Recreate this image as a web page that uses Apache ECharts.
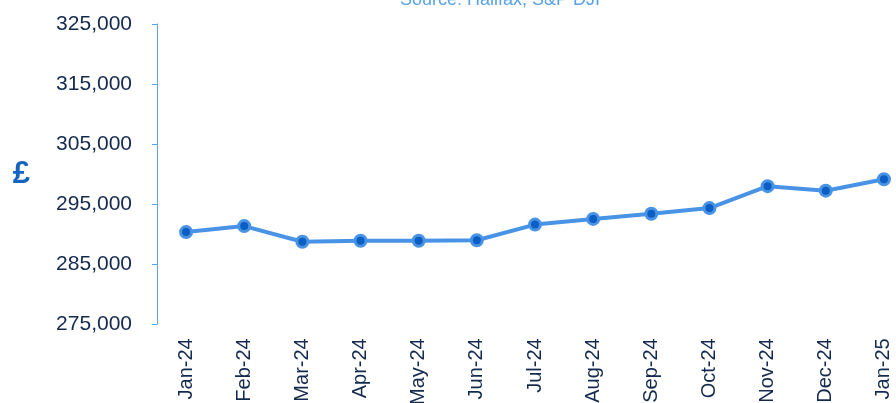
<!DOCTYPE html>
<html>
<head>
<meta charset="utf-8">
<script src="https://cdn.jsdelivr.net/npm/echarts@6/dist/echarts.min.js"></script>
<style>
  html, body { margin: 0; padding: 0; background: #fff; }
  #chart { width: 896px; height: 403px; }
</style>
</head>
<body>
<div id="chart"></div>
<script>
// 月份
var months = ['Jan-24', 'Feb-24', 'Mar-24', 'Apr-24', 'May-24', 'Jun-24', 'Jul-24',
              'Aug-24', 'Sep-24', 'Oct-24', 'Nov-24', 'Dec-24', 'Jan-25']
// 平均房价 (£)
var avgPrice = [290350, 291350, 288750, 288900, 288900, 289000, 291600,
                292550, 293400, 294350, 298000, 297250, 299150]
var yTicks = [275000, 285000, 295000, 305000, 315000, 325000]

var myChart = echarts.init(document.getElementById('chart'))
var option = {
  animation: false,
  title: {
    text: 'Source: Halifax, S&P DJI',
    left: 495,
    textAlign: 'center',
    top: -14,
    textStyle: {
      color: '#5aa2ea',
      fontSize: 18,
      fontWeight: 'normal',
      fontFamily: 'Liberation Sans'
    }
  },
  grid: {
    left: 157,
    top: 24,
    width: 756,
    height: 300.3,
    containLabel: false,
    outerBoundsMode: 'none'
  },
  xAxis: {
    type: 'category',
    data: months,
    boundaryGap: true,
    axisLine: { show: false },
    axisTick: { show: false },
    axisLabel: {
      rotate: 90,
      margin: 14,
      color: '#132a4e',
      fontSize: 20,
      fontFamily: 'Liberation Sans'
    }
  },
  yAxis: {
    type: 'value',
    min: yTicks[0],
    max: yTicks[yTicks.length - 1],
    interval: 10000,
    name: '£',
    nameLocation: 'middle',
    nameRotate: 0,
    nameGap: 127,
    nameTextStyle: {
      color: '#1565c0',
      fontSize: 31,
      fontWeight: 'bold',
      fontFamily: 'Liberation Sans'
    },
    axisLine: {
      show: true,
      lineStyle: { color: '#5aa2ea', width: 1 }
    },
    axisTick: {
      show: true,
      length: 5,
      lineStyle: { color: '#5aa2ea' }
    },
    splitLine: { show: false },
    axisLabel: {
      margin: 25,
      color: '#132a4e',
      fontSize: 21,
      fontFamily: 'Liberation Sans',
      formatter: function (v) { return v.toLocaleString('en-US') }
    }
  },
  series: [
    {
      type: 'line',
      data: avgPrice,
      symbol: 'circle',
      symbolSize: 11,
      lineStyle: { color: '#4893e6', width: 4 },
      itemStyle: {
        color: '#0b5ec2',
        borderColor: '#4893e6',
        borderWidth: 3
      }
    }
  ]
}
myChart.setOption(option)
</script>
</body>
</html>
